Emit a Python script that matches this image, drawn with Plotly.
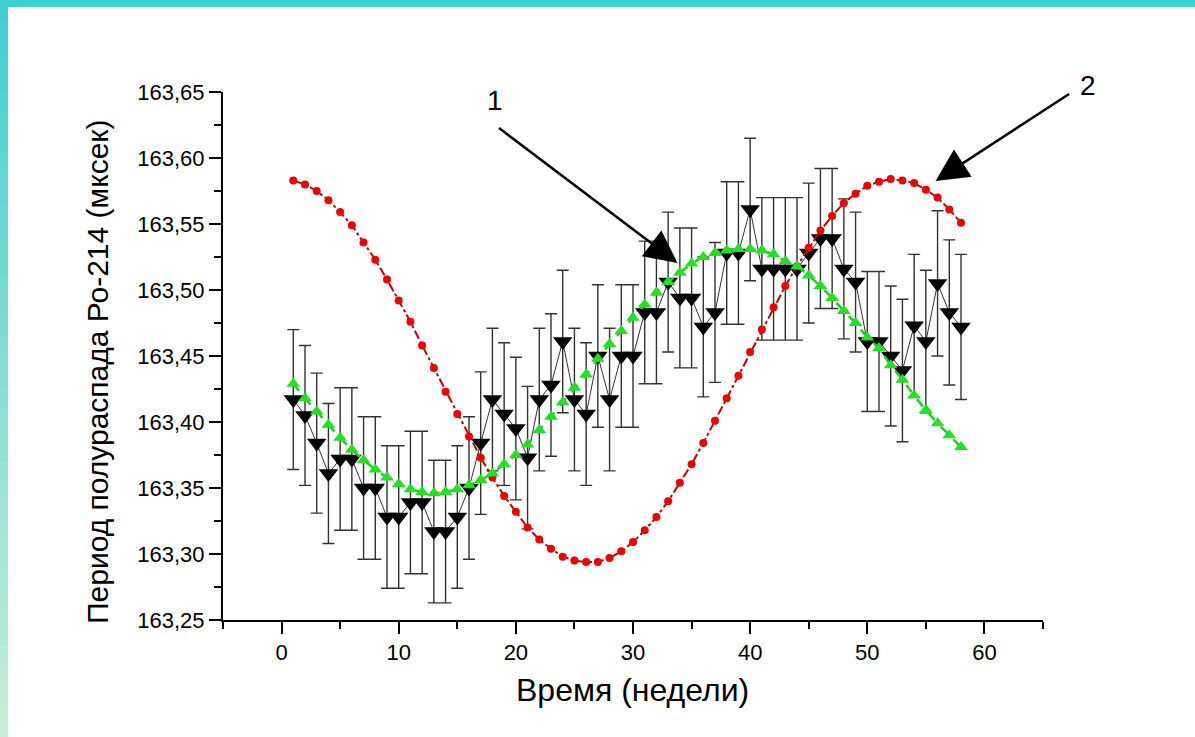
import plotly.graph_objects as go

weeks = list(range(1, 59))

measured = [
    163.417, 163.405, 163.384, 163.361, 163.372, 163.372, 163.350, 163.350, 163.328, 163.328,
    163.339, 163.339, 163.317, 163.317, 163.328, 163.350, 163.384, 163.417, 163.406, 163.395,
    163.373, 163.417, 163.428, 163.461, 163.417, 163.406, 163.450, 163.417, 163.450, 163.450,
    163.483, 163.483, 163.506, 163.494, 163.494, 163.472, 163.483, 163.528, 163.528, 163.561,
    163.516, 163.516, 163.516, 163.516, 163.528, 163.539, 163.539, 163.516, 163.506, 163.461,
    163.461, 163.450, 163.439, 163.473, 163.461, 163.505, 163.483, 163.472,
]

measured_err = [
    0.053, 0.053, 0.053, 0.053, 0.054, 0.054, 0.054, 0.054, 0.054, 0.054,
    0.054, 0.054, 0.054, 0.054, 0.054, 0.054, 0.054, 0.054, 0.054, 0.054,
    0.054, 0.054, 0.054, 0.054, 0.054, 0.054, 0.054, 0.054, 0.054, 0.054,
    0.054, 0.054, 0.053, 0.053, 0.053, 0.053, 0.053, 0.054, 0.054, 0.054,
    0.054, 0.054, 0.054, 0.054, 0.053, 0.053, 0.053, 0.053, 0.053, 0.053,
    0.053, 0.053, 0.054, 0.054, 0.054, 0.055, 0.055, 0.055,
]

fit_curve = [
    163.429, 163.418, 163.408, 163.398, 163.388, 163.379, 163.371, 163.364, 163.358, 163.353,
    163.349, 163.347, 163.346, 163.347, 163.349, 163.352, 163.356, 163.361, 163.368, 163.375,
    163.383, 163.394, 163.404, 163.415, 163.426, 163.436, 163.448, 163.459, 163.469, 163.479,
    163.489, 163.498, 163.506, 163.513, 163.520, 163.525, 163.528, 163.530, 163.531, 163.531,
    163.530, 163.527, 163.522, 163.518, 163.511, 163.503, 163.494, 163.484, 163.475, 163.464,
    163.456, 163.443, 163.432, 163.420, 163.409, 163.399, 163.390, 163.381,
]

red_curve = [
    163.583, 163.580, 163.575, 163.568, 163.559, 163.549, 163.536, 163.523, 163.508, 163.492,
    163.476, 163.458, 163.441, 163.423, 163.406, 163.389, 163.373, 163.358, 163.344, 163.332,
    163.320, 163.311, 163.304, 163.298, 163.295, 163.294, 163.294, 163.297, 163.302, 163.309,
    163.318, 163.328, 163.340, 163.354, 163.368, 163.384, 163.401, 163.418, 163.435, 163.453,
    163.470, 163.487, 163.503, 163.518, 163.532, 163.545, 163.556, 163.566, 163.573, 163.579,
    163.582, 163.584, 163.583, 163.581, 163.576, 163.570, 163.561, 163.551,
]

x_title = "Время (недели)"
y_title = "Период полураспада Ро-214 (мксек)"

FONT = "Liberation Sans, Arial, sans-serif"

fig = go.Figure()

fig.add_trace(go.Scatter(
    x=weeks, y=measured, mode="lines+markers",
    line=dict(color="#333333", width=1),
    marker=dict(symbol="triangle-down", size=17, color="black"),
    error_y=dict(type="data", array=measured_err, visible=True,
                 color="#333333", thickness=1.4, width=6),
    showlegend=False,
))

fig.add_trace(go.Scatter(
    x=weeks, y=red_curve, mode="lines+markers",
    line=dict(color="#c00000", width=2, dash="dashdot"),
    marker=dict(symbol="circle", size=8, color="#ee0000"),
    showlegend=False,
))

fig.add_trace(go.Scatter(
    x=weeks, y=fit_curve, mode="lines+markers",
    line=dict(color="#22cc22", width=2.5, dash="dash"),
    marker=dict(symbol="triangle-up", size=12, color="#22e022"),
    showlegend=False,
))

axis_common = dict(
    showline=True, linecolor="black", linewidth=2,
    ticks="outside", ticklen=12, tickwidth=2, tickcolor="black",
    showgrid=False, zeroline=False, mirror=False,
)

fig.update_xaxes(range=[-5, 65], tick0=0, dtick=10,
                 tickfont=dict(family=FONT, size=22, color="black"),
                 minor=dict(ticks="outside", ticklen=7, tickwidth=2, tickcolor="black", dtick=5, tick0=0),
                 **axis_common)
fig.update_yaxes(range=[163.25, 163.65], tick0=163.25, dtick=0.05, tickformat=".2f",
                 tickfont=dict(family=FONT, size=22, color="black"),
                 minor=dict(ticks="outside", ticklen=7, tickwidth=2, tickcolor="black", dtick=0.025, tick0=163.25),
                 **axis_common)

# teal frame (top bar and left gradient strip)
shapes = [dict(type="rect", xref="paper", yref="paper", x0=-1, x1=2, y0=(620 - 7) / 528, y1=2,
               fillcolor="#3fcfcf", line=dict(width=0), layer="below")]
n = 40
top_rgb = (63, 207, 207)
bot_rgb = (200, 236, 214)
H = 737
for i in range(n):
    t = i / (n - 1)
    c = tuple(int(round(top_rgb[k] + (bot_rgb[k] - top_rgb[k]) * t)) for k in range(3))
    py0 = i * H / n
    py1 = (i + 1) * H / n + 1
    shapes.append(dict(type="rect", xref="paper", yref="paper",
                       x0=(0 - 223) / 820, x1=(8 - 223) / 820,
                       y0=(620 - py1) / 528, y1=(620 - py0) / 528,
                       fillcolor="rgb(%d,%d,%d)" % c, line=dict(width=0), layer="below"))

annotations = [
    dict(text=y_title, xref="paper", yref="paper", x=(97 - 223) / 820, y=(620 - 372) / 528,
         textangle=-90, showarrow=False, xanchor="center", yanchor="middle",
         font=dict(family=FONT, size=30, color="black")),
    dict(text=x_title, xref="paper", yref="paper", x=(632 - 223) / 820, y=(620 - 690) / 528,
         showarrow=False, xanchor="center", yanchor="middle",
         font=dict(family=FONT, size=32, color="black")),
    dict(text="1", xref="paper", yref="paper", x=(495 - 223) / 820, y=(620 - 100) / 528,
         showarrow=False, xanchor="center", yanchor="middle",
         font=dict(family=FONT, size=28, color="black")),
    dict(text="2", xref="paper", yref="paper", x=(1088 - 223) / 820, y=(620 - 85) / 528,
         showarrow=False, xanchor="center", yanchor="middle",
         font=dict(family=FONT, size=28, color="black")),
    dict(text="", x=33.8, y=163.5205, xref="x", yref="y", ax=-180, ay=-136,
         showarrow=True, arrowhead=2, arrowsize=2.6, arrowwidth=2.5, arrowcolor="black"),
    dict(text="", x=55.83, y=163.5826, xref="x", yref="y", ax=135, ay=-88,
         showarrow=True, arrowhead=2, arrowsize=2.6, arrowwidth=2.5, arrowcolor="black"),
]

fig.update_layout(
    width=1195, height=737,
    margin=dict(l=223, r=152, t=92, b=117),
    paper_bgcolor="white", plot_bgcolor="white",
    separators=", ",
    shapes=shapes, annotations=annotations,
    font=dict(family=FONT, color="black"),
)

fig.write_html("out.html")
